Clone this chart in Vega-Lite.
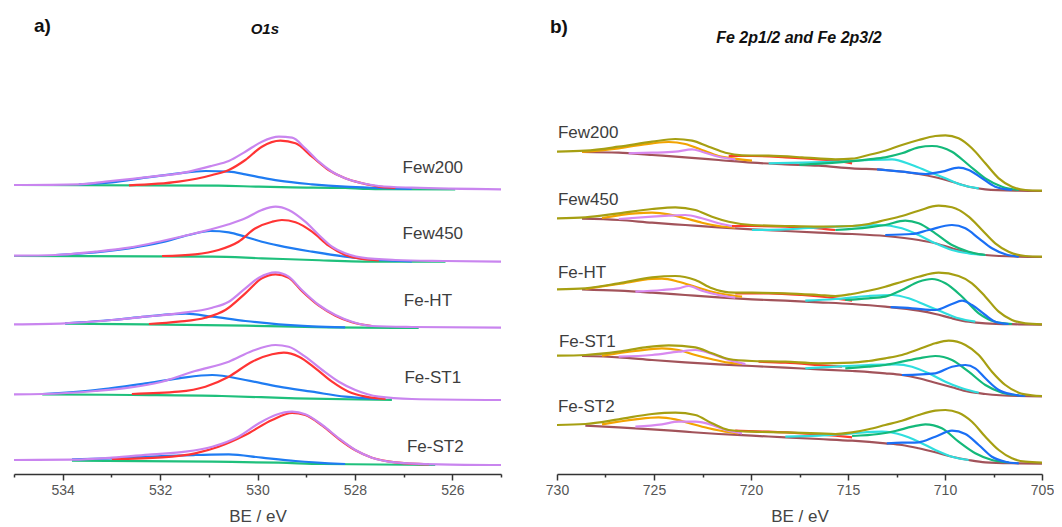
{
"$schema":"https://vega.github.io/schema/vega-lite/v6.json",
"padding":{"left":9,"top":10,"right":0,"bottom":0},
"spacing":56,
"bounds":"flush",
"resolve":{"scale":{"color":"independent","x":"independent","y":"independent"}},
"config":{"view":{"stroke":null},"font":"Liberation Sans",
 "axis":{"domainColor":"#333","domainWidth":1.5,"tickColor":"#333","tickWidth":1.5,"labelColor":"#555","labelFontSize":14,"labelFont":"Liberation Sans","labelPadding":3,"labelFlush":false,"labelOverlap":false,"titleColor":"#444","titleFontSize":17,"titleFontWeight":"normal","titleFont":"Liberation Sans","titlePadding":11,"grid":false}},
"datasets":{
"oxy":[
{"s":"Few200","c":"bg","x":535,"y":289},{"s":"Few200","c":"bg","x":530.8,"y":288.3},{"s":"Few200","c":"bg","x":529.97,"y":287.3},{"s":"Few200","c":"bg","x":529.29,"y":286.7},{"s":"Few200","c":"bg","x":528.2,"y":286},{"s":"Few200","c":"bg","x":527.72,"y":285},{"s":"Few200","c":"bg","x":525.94,"y":284.7},
{"s":"Few200","c":"OH","x":533.67,"y":289.7},{"s":"Few200","c":"OH","x":532.99,"y":291.7},{"s":"Few200","c":"OH","x":532.3,"y":296.3},{"s":"Few200","c":"OH","x":531.62,"y":300.7},{"s":"Few200","c":"OH","x":531.07,"y":303},{"s":"Few200","c":"OH","x":530.59,"y":302.3},{"s":"Few200","c":"OH","x":530.25,"y":299.7},{"s":"Few200","c":"OH","x":529.91,"y":296.3},{"s":"Few200","c":"OH","x":529.56,"y":293.3},{"s":"Few200","c":"OH","x":528.88,"y":289.7},{"s":"Few200","c":"OH","x":528.2,"y":287.3},{"s":"Few200","c":"OH","x":527.51,"y":286},{"s":"Few200","c":"OH","x":526.83,"y":285},
{"s":"Few200","c":"OL","x":532.64,"y":288.7},{"s":"Few200","c":"OL","x":531.62,"y":292.3},{"s":"Few200","c":"OL","x":530.93,"y":299},{"s":"Few200","c":"OL","x":530.59,"y":304},{"s":"Few200","c":"OL","x":530.25,"y":314},{"s":"Few200","c":"OL","x":529.91,"y":327.3},{"s":"Few200","c":"OL","x":529.53,"y":333.3},{"s":"Few200","c":"OL","x":529.22,"y":330.7},{"s":"Few200","c":"OL","x":528.88,"y":317.3},{"s":"Few200","c":"OL","x":528.54,"y":304},{"s":"Few200","c":"OL","x":528.2,"y":295.7},{"s":"Few200","c":"OL","x":527.85,"y":290.7},{"s":"Few200","c":"OL","x":527.51,"y":287.3},{"s":"Few200","c":"OL","x":527.17,"y":286},
{"s":"Few200","c":"fit","x":535,"y":289},{"s":"Few200","c":"fit","x":533.67,"y":289.7},{"s":"Few200","c":"fit","x":533.12,"y":292.3},{"s":"Few200","c":"fit","x":532.17,"y":297.3},{"s":"Few200","c":"fit","x":531.48,"y":301.7},{"s":"Few200","c":"fit","x":530.93,"y":308.3},{"s":"Few200","c":"fit","x":530.59,"y":313},{"s":"Few200","c":"fit","x":530.25,"y":322.3},{"s":"Few200","c":"fit","x":529.91,"y":332.3},{"s":"Few200","c":"fit","x":529.56,"y":337.3},{"s":"Few200","c":"fit","x":529.29,"y":336.3},{"s":"Few200","c":"fit","x":529.02,"y":325.7},{"s":"Few200","c":"fit","x":528.74,"y":312.3},{"s":"Few200","c":"fit","x":528.47,"y":302.3},{"s":"Few200","c":"fit","x":528.2,"y":295.7},{"s":"Few200","c":"fit","x":527.85,"y":290.7},{"s":"Few200","c":"fit","x":527.51,"y":288},{"s":"Few200","c":"fit","x":526.83,"y":286.3},{"s":"Few200","c":"fit","x":525,"y":284.7},
{"s":"Few450","c":"bg","x":535,"y":218},{"s":"Few450","c":"bg","x":530.93,"y":217.3},{"s":"Few450","c":"bg","x":529.91,"y":215.7},{"s":"Few450","c":"bg","x":528.88,"y":214},{"s":"Few450","c":"bg","x":527.51,"y":212.3},{"s":"Few450","c":"bg","x":526.14,"y":212.3},
{"s":"Few450","c":"OH","x":534.15,"y":219},{"s":"Few450","c":"OH","x":533.33,"y":221.7},{"s":"Few450","c":"OH","x":532.64,"y":225.7},{"s":"Few450","c":"OH","x":531.96,"y":231.7},{"s":"Few450","c":"OH","x":531.41,"y":239},{"s":"Few450","c":"OH","x":530.97,"y":243},{"s":"Few450","c":"OH","x":530.59,"y":241.7},{"s":"Few450","c":"OH","x":530.25,"y":237.3},{"s":"Few450","c":"OH","x":529.91,"y":232.3},{"s":"Few450","c":"OH","x":529.56,"y":228.3},{"s":"Few450","c":"OH","x":528.88,"y":222.3},{"s":"Few450","c":"OH","x":528.2,"y":217.3},{"s":"Few450","c":"OH","x":527.51,"y":214},{"s":"Few450","c":"OH","x":526.83,"y":212.7},
{"s":"Few450","c":"OL","x":531.96,"y":218},{"s":"Few450","c":"OL","x":531.28,"y":219.7},{"s":"Few450","c":"OL","x":530.8,"y":224},{"s":"Few450","c":"OL","x":530.39,"y":232.3},{"s":"Few450","c":"OL","x":530.04,"y":245.7},{"s":"Few450","c":"OL","x":529.7,"y":252.3},{"s":"Few450","c":"OL","x":529.5,"y":254},{"s":"Few450","c":"OL","x":529.22,"y":251.7},{"s":"Few450","c":"OL","x":528.88,"y":242.3},{"s":"Few450","c":"OL","x":528.54,"y":228.3},{"s":"Few450","c":"OL","x":528.2,"y":219},{"s":"Few450","c":"OL","x":527.85,"y":215},{"s":"Few450","c":"OL","x":527.51,"y":213.7},
{"s":"Few450","c":"fit","x":535,"y":218.3},{"s":"Few450","c":"fit","x":534.15,"y":219},{"s":"Few450","c":"fit","x":533.33,"y":222.3},{"s":"Few450","c":"fit","x":532.64,"y":226.3},{"s":"Few450","c":"fit","x":531.96,"y":233},{"s":"Few450","c":"fit","x":531.28,"y":240.7},{"s":"Few450","c":"fit","x":530.59,"y":249.7},{"s":"Few450","c":"fit","x":530.25,"y":255.7},{"s":"Few450","c":"fit","x":529.91,"y":264},{"s":"Few450","c":"fit","x":529.63,"y":267.3},{"s":"Few450","c":"fit","x":529.36,"y":264},{"s":"Few450","c":"fit","x":529.02,"y":252.3},{"s":"Few450","c":"fit","x":528.74,"y":239},{"s":"Few450","c":"fit","x":528.47,"y":227.3},{"s":"Few450","c":"fit","x":528.2,"y":220.7},{"s":"Few450","c":"fit","x":527.85,"y":216.3},{"s":"Few450","c":"fit","x":527.17,"y":214},{"s":"Few450","c":"fit","x":526.14,"y":213},{"s":"Few450","c":"fit","x":525,"y":212.3},
{"s":"Fe-HT","c":"bg","x":533.95,"y":150.3},{"s":"Fe-HT","c":"bg","x":532.3,"y":149.7},{"s":"Fe-HT","c":"bg","x":530.25,"y":148.3},{"s":"Fe-HT","c":"bg","x":528.54,"y":146.7},{"s":"Fe-HT","c":"bg","x":526.69,"y":146},
{"s":"Fe-HT","c":"OH","x":533.95,"y":150.7},{"s":"Fe-HT","c":"OH","x":532.99,"y":154},{"s":"Fe-HT","c":"OH","x":532.3,"y":157.3},{"s":"Fe-HT","c":"OH","x":531.48,"y":160.3},{"s":"Fe-HT","c":"OH","x":530.93,"y":157.3},{"s":"Fe-HT","c":"OH","x":530.25,"y":153},{"s":"Fe-HT","c":"OH","x":529.56,"y":149.7},{"s":"Fe-HT","c":"OH","x":528.88,"y":147.7},{"s":"Fe-HT","c":"OH","x":528.2,"y":146.7},
{"s":"Fe-HT","c":"OL","x":532.23,"y":150},{"s":"Fe-HT","c":"OL","x":531.62,"y":152.3},{"s":"Fe-HT","c":"OL","x":531.07,"y":156.3},{"s":"Fe-HT","c":"OL","x":530.66,"y":164},{"s":"Fe-HT","c":"OL","x":530.25,"y":180.7},{"s":"Fe-HT","c":"OL","x":529.91,"y":195.7},{"s":"Fe-HT","c":"OL","x":529.63,"y":199.7},{"s":"Fe-HT","c":"OL","x":529.36,"y":196.3},{"s":"Fe-HT","c":"OL","x":529.09,"y":183},{"s":"Fe-HT","c":"OL","x":528.74,"y":168.3},{"s":"Fe-HT","c":"OL","x":528.4,"y":158.3},{"s":"Fe-HT","c":"OL","x":528.06,"y":151.7},{"s":"Fe-HT","c":"OL","x":527.65,"y":148},
{"s":"Fe-HT","c":"fit","x":535,"y":149.7},{"s":"Fe-HT","c":"fit","x":533.95,"y":150.7},{"s":"Fe-HT","c":"fit","x":532.99,"y":154},{"s":"Fe-HT","c":"fit","x":532.3,"y":157.3},{"s":"Fe-HT","c":"fit","x":531.62,"y":160.7},{"s":"Fe-HT","c":"fit","x":530.93,"y":166.3},{"s":"Fe-HT","c":"fit","x":530.59,"y":172.3},{"s":"Fe-HT","c":"fit","x":530.25,"y":185.7},{"s":"Fe-HT","c":"fit","x":529.97,"y":196.3},{"s":"Fe-HT","c":"fit","x":529.63,"y":201.7},{"s":"Fe-HT","c":"fit","x":529.36,"y":197.3},{"s":"Fe-HT","c":"fit","x":529.09,"y":184},{"s":"Fe-HT","c":"fit","x":528.74,"y":169},{"s":"Fe-HT","c":"fit","x":528.4,"y":159},{"s":"Fe-HT","c":"fit","x":528.06,"y":152.3},{"s":"Fe-HT","c":"fit","x":527.65,"y":148},{"s":"Fe-HT","c":"fit","x":526.83,"y":147},{"s":"Fe-HT","c":"fit","x":525,"y":146.3},
{"s":"Fe-ST1","c":"bg","x":534.42,"y":79.7},{"s":"Fe-ST1","c":"bg","x":532.58,"y":79},{"s":"Fe-ST1","c":"bg","x":530.73,"y":78},{"s":"Fe-ST1","c":"bg","x":529.22,"y":75.7},{"s":"Fe-ST1","c":"bg","x":527.24,"y":74},
{"s":"Fe-ST1","c":"OH","x":534.42,"y":80},{"s":"Fe-ST1","c":"OH","x":533.33,"y":84},{"s":"Fe-ST1","c":"OH","x":532.3,"y":90.7},{"s":"Fe-ST1","c":"OH","x":531.62,"y":95.7},{"s":"Fe-ST1","c":"OH","x":530.93,"y":99},{"s":"Fe-ST1","c":"OH","x":530.25,"y":94},{"s":"Fe-ST1","c":"OH","x":529.56,"y":87.3},{"s":"Fe-ST1","c":"OH","x":528.88,"y":82.3},{"s":"Fe-ST1","c":"OH","x":528.2,"y":77.3},{"s":"Fe-ST1","c":"OH","x":527.51,"y":75},
{"s":"Fe-ST1","c":"OL","x":532.58,"y":80},{"s":"Fe-ST1","c":"OL","x":531.62,"y":82.3},{"s":"Fe-ST1","c":"OL","x":531.07,"y":87.3},{"s":"Fe-ST1","c":"OL","x":530.59,"y":97.3},{"s":"Fe-ST1","c":"OL","x":530.11,"y":112.3},{"s":"Fe-ST1","c":"OL","x":529.7,"y":119.7},{"s":"Fe-ST1","c":"OL","x":529.46,"y":121.3},{"s":"Fe-ST1","c":"OL","x":529.15,"y":117.3},{"s":"Fe-ST1","c":"OL","x":528.81,"y":105.7},{"s":"Fe-ST1","c":"OL","x":528.47,"y":92.3},{"s":"Fe-ST1","c":"OL","x":528.13,"y":82.3},{"s":"Fe-ST1","c":"OL","x":527.78,"y":77.3},{"s":"Fe-ST1","c":"OL","x":527.37,"y":75},
{"s":"Fe-ST1","c":"fit","x":535,"y":79.7},{"s":"Fe-ST1","c":"fit","x":534.42,"y":80},{"s":"Fe-ST1","c":"fit","x":533.33,"y":83},{"s":"Fe-ST1","c":"fit","x":532.64,"y":86.3},{"s":"Fe-ST1","c":"fit","x":531.96,"y":92.3},{"s":"Fe-ST1","c":"fit","x":531.28,"y":103},{"s":"Fe-ST1","c":"fit","x":530.59,"y":112.3},{"s":"Fe-ST1","c":"fit","x":530.11,"y":123},{"s":"Fe-ST1","c":"fit","x":529.63,"y":129},{"s":"Fe-ST1","c":"fit","x":529.36,"y":127.3},{"s":"Fe-ST1","c":"fit","x":529.02,"y":117.3},{"s":"Fe-ST1","c":"fit","x":528.67,"y":104},{"s":"Fe-ST1","c":"fit","x":528.33,"y":92.3},{"s":"Fe-ST1","c":"fit","x":527.99,"y":84},{"s":"Fe-ST1","c":"fit","x":527.51,"y":77.3},{"s":"Fe-ST1","c":"fit","x":526.83,"y":75},{"s":"Fe-ST1","c":"fit","x":525,"y":74},
{"s":"Fe-ST2","c":"bg","x":533.81,"y":13.3},{"s":"Fe-ST2","c":"bg","x":530.93,"y":12.3},{"s":"Fe-ST2","c":"bg","x":529.56,"y":11.3},{"s":"Fe-ST2","c":"bg","x":528.67,"y":10},{"s":"Fe-ST2","c":"bg","x":526.35,"y":9},
{"s":"Fe-ST2","c":"OH","x":533.81,"y":14.7},{"s":"Fe-ST2","c":"OH","x":532.99,"y":15.7},{"s":"Fe-ST2","c":"OH","x":531.96,"y":18},{"s":"Fe-ST2","c":"OH","x":531.28,"y":19},{"s":"Fe-ST2","c":"OH","x":530.59,"y":19.7},{"s":"Fe-ST2","c":"OH","x":529.91,"y":16.3},{"s":"Fe-ST2","c":"OH","x":529.22,"y":13},{"s":"Fe-ST2","c":"OH","x":528.54,"y":10.7},{"s":"Fe-ST2","c":"OH","x":528.2,"y":10},
{"s":"Fe-ST2","c":"OL","x":532.99,"y":15},{"s":"Fe-ST2","c":"OL","x":531.96,"y":16.7},{"s":"Fe-ST2","c":"OL","x":531.28,"y":20.7},{"s":"Fe-ST2","c":"OL","x":530.8,"y":27.3},{"s":"Fe-ST2","c":"OL","x":530.25,"y":39},{"s":"Fe-ST2","c":"OL","x":529.7,"y":54},{"s":"Fe-ST2","c":"OL","x":529.29,"y":61},{"s":"Fe-ST2","c":"OL","x":529.02,"y":59},{"s":"Fe-ST2","c":"OL","x":528.67,"y":48.3},{"s":"Fe-ST2","c":"OL","x":528.33,"y":35},{"s":"Fe-ST2","c":"OL","x":527.99,"y":23.7},{"s":"Fe-ST2","c":"OL","x":527.65,"y":16.3},{"s":"Fe-ST2","c":"OL","x":527.17,"y":11.7},{"s":"Fe-ST2","c":"OL","x":526.48,"y":9.7},
{"s":"Fe-ST2","c":"fit","x":535,"y":14},{"s":"Fe-ST2","c":"fit","x":533.81,"y":14.3},{"s":"Fe-ST2","c":"fit","x":532.99,"y":16.3},{"s":"Fe-ST2","c":"fit","x":532.17,"y":19.7},{"s":"Fe-ST2","c":"fit","x":531.48,"y":22.3},{"s":"Fe-ST2","c":"fit","x":530.93,"y":27.3},{"s":"Fe-ST2","c":"fit","x":530.39,"y":37.3},{"s":"Fe-ST2","c":"fit","x":529.97,"y":50.7},{"s":"Fe-ST2","c":"fit","x":529.63,"y":59},{"s":"Fe-ST2","c":"fit","x":529.29,"y":62.3},{"s":"Fe-ST2","c":"fit","x":529.02,"y":59.7},{"s":"Fe-ST2","c":"fit","x":528.67,"y":49},{"s":"Fe-ST2","c":"fit","x":528.33,"y":35.7},{"s":"Fe-ST2","c":"fit","x":527.99,"y":24},{"s":"Fe-ST2","c":"fit","x":527.65,"y":16.3},{"s":"Fe-ST2","c":"fit","x":527.17,"y":11.7},{"s":"Fe-ST2","c":"fit","x":526.28,"y":9.7},{"s":"Fe-ST2","c":"fit","x":525,"y":9}
],
"fe":[
{"s":"Few200","c":"bg","x":728.71,"y":322},{"s":"Few200","c":"bg","x":726.82,"y":321.3},{"s":"Few200","c":"bg","x":725.1,"y":319},{"s":"Few200","c":"bg","x":723.39,"y":316.7},{"s":"Few200","c":"bg","x":721.67,"y":314},{"s":"Few200","c":"bg","x":719.95,"y":311.3},{"s":"Few200","c":"bg","x":718.23,"y":309.7},{"s":"Few200","c":"bg","x":716.51,"y":308.3},{"s":"Few200","c":"bg","x":714.79,"y":305.7},{"s":"Few200","c":"bg","x":713.08,"y":304},{"s":"Few200","c":"bg","x":711.36,"y":300},{"s":"Few200","c":"bg","x":710.5,"y":296.7},{"s":"Few200","c":"bg","x":709.64,"y":292.3},{"s":"Few200","c":"bg","x":708.78,"y":287.3},{"s":"Few200","c":"bg","x":707.92,"y":284.7},{"s":"Few200","c":"bg","x":706.2,"y":283.3},{"s":"Few200","c":"bg","x":705,"y":283},
{"s":"Few200","c":"p12a","x":728.71,"y":322},{"s":"Few200","c":"p12a","x":726.82,"y":325.7},{"s":"Few200","c":"p12a","x":725.1,"y":330.7},{"s":"Few200","c":"p12a","x":724.24,"y":332},{"s":"Few200","c":"p12a","x":723.39,"y":330},{"s":"Few200","c":"p12a","x":722.53,"y":324},{"s":"Few200","c":"p12a","x":721.67,"y":318},{"s":"Few200","c":"p12a","x":720.81,"y":315.3},{"s":"Few200","c":"p12a","x":719.95,"y":313.3},
{"s":"Few200","c":"p12b","x":726.31,"y":320.7},{"s":"Few200","c":"p12b","x":725.1,"y":321.3},{"s":"Few200","c":"p12b","x":723.9,"y":322.3},{"s":"Few200","c":"p12b","x":723.04,"y":324.7},{"s":"Few200","c":"p12b","x":722.53,"y":322.3},{"s":"Few200","c":"p12b","x":721.67,"y":317.3},{"s":"Few200","c":"p12b","x":720.81,"y":314.7},
{"s":"Few200","c":"sat","x":721.15,"y":318},{"s":"Few200","c":"sat","x":719.95,"y":318},{"s":"Few200","c":"sat","x":718.23,"y":316.7},{"s":"Few200","c":"sat","x":716.51,"y":314.7},{"s":"Few200","c":"sat","x":715.65,"y":313.3},{"s":"Few200","c":"sat","x":714.79,"y":310.7},
{"s":"Few200","c":"p32c","x":719.09,"y":310.7},{"s":"Few200","c":"p32c","x":717.37,"y":311.3},{"s":"Few200","c":"p32c","x":715.65,"y":312.3},{"s":"Few200","c":"p32c","x":713.94,"y":314},{"s":"Few200","c":"p32c","x":712.73,"y":314.7},{"s":"Few200","c":"p32c","x":711.7,"y":309},{"s":"Few200","c":"p32c","x":710.84,"y":302.3},{"s":"Few200","c":"p32c","x":709.98,"y":295.7},{"s":"Few200","c":"p32c","x":709.12,"y":289},{"s":"Few200","c":"p32c","x":708.26,"y":285.7},
{"s":"Few200","c":"p32a","x":717.5,"y":309.2},{"s":"Few200","c":"p32a","x":715.65,"y":311.3},{"s":"Few200","c":"p32a","x":713.94,"y":314.7},{"s":"Few200","c":"p32a","x":713.08,"y":316.7},{"s":"Few200","c":"p32a","x":712.22,"y":320.7},{"s":"Few200","c":"p32a","x":711.36,"y":326.7},{"s":"Few200","c":"p32a","x":710.67,"y":328},{"s":"Few200","c":"p32a","x":709.64,"y":322.3},{"s":"Few200","c":"p32a","x":708.78,"y":309},{"s":"Few200","c":"p32a","x":707.92,"y":295.7},{"s":"Few200","c":"p32a","x":707.06,"y":287.3},{"s":"Few200","c":"p32a","x":706.2,"y":284},
{"s":"Few200","c":"p32b","x":713.5,"y":304.6},{"s":"Few200","c":"p32b","x":712.22,"y":302.3},{"s":"Few200","c":"p32b","x":711.01,"y":300},{"s":"Few200","c":"p32b","x":710.16,"y":302.3},{"s":"Few200","c":"p32b","x":709.3,"y":306.3},{"s":"Few200","c":"p32b","x":708.78,"y":304},{"s":"Few200","c":"p32b","x":708.09,"y":295.7},{"s":"Few200","c":"p32b","x":707.41,"y":287.3},{"s":"Few200","c":"p32b","x":706.55,"y":284},
{"s":"Few200","c":"fit","x":730,"y":322.3},{"s":"Few200","c":"fit","x":728.54,"y":323.3},{"s":"Few200","c":"fit","x":726.82,"y":327.3},{"s":"Few200","c":"fit","x":725.1,"y":332.3},{"s":"Few200","c":"fit","x":723.9,"y":335},{"s":"Few200","c":"fit","x":723.04,"y":333.3},{"s":"Few200","c":"fit","x":722.18,"y":327.3},{"s":"Few200","c":"fit","x":721.32,"y":321.3},{"s":"Few200","c":"fit","x":720.46,"y":318.7},{"s":"Few200","c":"fit","x":719.09,"y":318.3},{"s":"Few200","c":"fit","x":717.37,"y":316.7},{"s":"Few200","c":"fit","x":715.65,"y":314.7},{"s":"Few200","c":"fit","x":714.79,"y":315.3},{"s":"Few200","c":"fit","x":713.94,"y":319},{"s":"Few200","c":"fit","x":713.08,"y":323.3},{"s":"Few200","c":"fit","x":712.22,"y":329},{"s":"Few200","c":"fit","x":711.36,"y":334},{"s":"Few200","c":"fit","x":710.5,"y":338},{"s":"Few200","c":"fit","x":709.98,"y":338.7},{"s":"Few200","c":"fit","x":709.3,"y":335.7},{"s":"Few200","c":"fit","x":708.61,"y":325.7},{"s":"Few200","c":"fit","x":707.92,"y":310.7},{"s":"Few200","c":"fit","x":707.23,"y":295.7},{"s":"Few200","c":"fit","x":706.55,"y":287.3},{"s":"Few200","c":"fit","x":705.86,"y":284},{"s":"Few200","c":"fit","x":705,"y":283.3},
{"s":"Few450","c":"bg","x":728.71,"y":255.3},{"s":"Few450","c":"bg","x":726.82,"y":254},{"s":"Few450","c":"bg","x":725.1,"y":251.3},{"s":"Few450","c":"bg","x":723.39,"y":249},{"s":"Few450","c":"bg","x":721.67,"y":246.7},{"s":"Few450","c":"bg","x":719.95,"y":244.7},{"s":"Few450","c":"bg","x":718.23,"y":243},{"s":"Few450","c":"bg","x":716.51,"y":241.3},{"s":"Few450","c":"bg","x":714.79,"y":240},{"s":"Few450","c":"bg","x":713.08,"y":238},{"s":"Few450","c":"bg","x":711.36,"y":234},{"s":"Few450","c":"bg","x":710.5,"y":230.7},{"s":"Few450","c":"bg","x":709.64,"y":225.7},{"s":"Few450","c":"bg","x":708.78,"y":221.3},{"s":"Few450","c":"bg","x":707.92,"y":219},{"s":"Few450","c":"bg","x":706.2,"y":217.3},{"s":"Few450","c":"bg","x":705,"y":217},
{"s":"Few450","c":"p12a","x":727.68,"y":256},{"s":"Few450","c":"p12a","x":725.96,"y":260.7},{"s":"Few450","c":"p12a","x":725.1,"y":261.3},{"s":"Few450","c":"p12a","x":724.24,"y":259.7},{"s":"Few450","c":"p12a","x":723.39,"y":255.7},{"s":"Few450","c":"p12a","x":722.53,"y":251.3},{"s":"Few450","c":"p12a","x":721.67,"y":248},{"s":"Few450","c":"p12a","x":720.81,"y":246.3},
{"s":"Few450","c":"p12b","x":726.82,"y":255},{"s":"Few450","c":"p12b","x":725.1,"y":257.3},{"s":"Few450","c":"p12b","x":724.24,"y":258.3},{"s":"Few450","c":"p12b","x":723.39,"y":259},{"s":"Few450","c":"p12b","x":722.53,"y":255.7},{"s":"Few450","c":"p12b","x":721.67,"y":250.7},{"s":"Few450","c":"p12b","x":720.81,"y":247.3},
{"s":"Few450","c":"sat","x":720.98,"y":248},{"s":"Few450","c":"sat","x":719.95,"y":248},{"s":"Few450","c":"sat","x":718.23,"y":247.3},{"s":"Few450","c":"sat","x":716.51,"y":245.7},{"s":"Few450","c":"sat","x":715.65,"y":244},
{"s":"Few450","c":"p32c","x":719.95,"y":244},{"s":"Few450","c":"p32c","x":718.23,"y":244.7},{"s":"Few450","c":"p32c","x":716.51,"y":246.7},{"s":"Few450","c":"p32c","x":714.79,"y":248},{"s":"Few450","c":"p32c","x":713.42,"y":249},{"s":"Few450","c":"p32c","x":712.22,"y":245.7},{"s":"Few450","c":"p32c","x":711.36,"y":239},{"s":"Few450","c":"p32c","x":710.5,"y":230.7},{"s":"Few450","c":"p32c","x":709.64,"y":224},{"s":"Few450","c":"p32c","x":708.78,"y":220.7},{"s":"Few450","c":"p32c","x":707.92,"y":219},
{"s":"Few450","c":"p32a","x":715.65,"y":244},{"s":"Few450","c":"p32a","x":713.94,"y":246.7},{"s":"Few450","c":"p32a","x":713.08,"y":249},{"s":"Few450","c":"p32a","x":712.05,"y":253.3},{"s":"Few450","c":"p32a","x":711.36,"y":250.7},{"s":"Few450","c":"p32a","x":710.5,"y":240.7},{"s":"Few450","c":"p32a","x":709.64,"y":229},{"s":"Few450","c":"p32a","x":708.78,"y":222.3},{"s":"Few450","c":"p32a","x":707.92,"y":219},
{"s":"Few450","c":"p32b","x":713.08,"y":239},{"s":"Few450","c":"p32b","x":711.7,"y":240},{"s":"Few450","c":"p32b","x":710.84,"y":244},{"s":"Few450","c":"p32b","x":709.64,"y":249},{"s":"Few450","c":"p32b","x":708.95,"y":245.7},{"s":"Few450","c":"p32b","x":708.26,"y":235.7},{"s":"Few450","c":"p32b","x":707.58,"y":225.7},{"s":"Few450","c":"p32b","x":706.89,"y":219.7},{"s":"Few450","c":"p32b","x":706.2,"y":217.3},
{"s":"Few450","c":"fit","x":730,"y":255.7},{"s":"Few450","c":"fit","x":728.54,"y":256.7},{"s":"Few450","c":"fit","x":726.82,"y":260.7},{"s":"Few450","c":"fit","x":725.1,"y":265},{"s":"Few450","c":"fit","x":723.9,"y":266.7},{"s":"Few450","c":"fit","x":722.87,"y":264},{"s":"Few450","c":"fit","x":722.01,"y":257.3},{"s":"Few450","c":"fit","x":721.15,"y":252.3},{"s":"Few450","c":"fit","x":719.95,"y":249},{"s":"Few450","c":"fit","x":718.23,"y":248},{"s":"Few450","c":"fit","x":716.51,"y":247.3},{"s":"Few450","c":"fit","x":714.79,"y":248},{"s":"Few450","c":"fit","x":713.94,"y":250},{"s":"Few450","c":"fit","x":713.08,"y":254},{"s":"Few450","c":"fit","x":712.22,"y":258},{"s":"Few450","c":"fit","x":711.36,"y":263.3},{"s":"Few450","c":"fit","x":710.33,"y":268.3},{"s":"Few450","c":"fit","x":709.64,"y":266.7},{"s":"Few450","c":"fit","x":708.78,"y":257.3},{"s":"Few450","c":"fit","x":708.09,"y":244},{"s":"Few450","c":"fit","x":707.41,"y":230.7},{"s":"Few450","c":"fit","x":706.72,"y":222.3},{"s":"Few450","c":"fit","x":705.86,"y":218},{"s":"Few450","c":"fit","x":705,"y":217.3},
{"s":"Fe-HT","c":"bg","x":728.71,"y":184.7},{"s":"Fe-HT","c":"bg","x":726.82,"y":183.3},{"s":"Fe-HT","c":"bg","x":725.1,"y":181.3},{"s":"Fe-HT","c":"bg","x":723.39,"y":179},{"s":"Fe-HT","c":"bg","x":721.67,"y":176.7},{"s":"Fe-HT","c":"bg","x":719.95,"y":174.7},{"s":"Fe-HT","c":"bg","x":718.23,"y":173.3},{"s":"Fe-HT","c":"bg","x":716.51,"y":171.7},{"s":"Fe-HT","c":"bg","x":714.79,"y":170},{"s":"Fe-HT","c":"bg","x":713.08,"y":167.3},{"s":"Fe-HT","c":"bg","x":711.36,"y":163.3},{"s":"Fe-HT","c":"bg","x":710.5,"y":160},{"s":"Fe-HT","c":"bg","x":709.64,"y":155.7},{"s":"Fe-HT","c":"bg","x":708.78,"y":152.3},{"s":"Fe-HT","c":"bg","x":707.92,"y":150.7},{"s":"Fe-HT","c":"bg","x":706.2,"y":149.7},{"s":"Fe-HT","c":"bg","x":705,"y":149.3},
{"s":"Fe-HT","c":"p12a","x":728.54,"y":185},{"s":"Fe-HT","c":"p12a","x":726.82,"y":190},{"s":"Fe-HT","c":"p12a","x":725.1,"y":195},{"s":"Fe-HT","c":"p12a","x":724.59,"y":195.3},{"s":"Fe-HT","c":"p12a","x":723.73,"y":192.3},{"s":"Fe-HT","c":"p12a","x":722.87,"y":187.3},{"s":"Fe-HT","c":"p12a","x":722.01,"y":182.3},{"s":"Fe-HT","c":"p12a","x":721.15,"y":179},{"s":"Fe-HT","c":"p12a","x":720.46,"y":177.3},
{"s":"Fe-HT","c":"p12b","x":725.96,"y":182.3},{"s":"Fe-HT","c":"p12b","x":724.59,"y":184},{"s":"Fe-HT","c":"p12b","x":723.73,"y":185.7},{"s":"Fe-HT","c":"p12b","x":723.21,"y":188},{"s":"Fe-HT","c":"p12b","x":722.53,"y":183.3},{"s":"Fe-HT","c":"p12b","x":721.67,"y":179},{"s":"Fe-HT","c":"p12b","x":720.81,"y":176.3},
{"s":"Fe-HT","c":"sat","x":720.81,"y":180.7},{"s":"Fe-HT","c":"sat","x":719.09,"y":180.7},{"s":"Fe-HT","c":"sat","x":717.37,"y":179},{"s":"Fe-HT","c":"sat","x":715.65,"y":175.7},{"s":"Fe-HT","c":"sat","x":714.79,"y":173.3},
{"s":"Fe-HT","c":"p32c","x":717.2,"y":173.3},{"s":"Fe-HT","c":"p32c","x":715.65,"y":175},{"s":"Fe-HT","c":"p32c","x":713.94,"y":178},{"s":"Fe-HT","c":"p32c","x":712.73,"y":179},{"s":"Fe-HT","c":"p32c","x":711.87,"y":175.7},{"s":"Fe-HT","c":"p32c","x":711.01,"y":169},{"s":"Fe-HT","c":"p32c","x":710.16,"y":162.3},{"s":"Fe-HT","c":"p32c","x":709.3,"y":155.7},{"s":"Fe-HT","c":"p32c","x":708.44,"y":152.3},
{"s":"Fe-HT","c":"p32a","x":715.14,"y":174},{"s":"Fe-HT","c":"p32a","x":713.94,"y":175.7},{"s":"Fe-HT","c":"p32a","x":713.08,"y":177.3},{"s":"Fe-HT","c":"p32a","x":712.22,"y":184},{"s":"Fe-HT","c":"p32a","x":711.36,"y":192.3},{"s":"Fe-HT","c":"p32a","x":710.67,"y":195},{"s":"Fe-HT","c":"p32a","x":709.98,"y":190.7},{"s":"Fe-HT","c":"p32a","x":709.12,"y":177.3},{"s":"Fe-HT","c":"p32a","x":708.26,"y":160.7},{"s":"Fe-HT","c":"p32a","x":707.41,"y":152.3},{"s":"Fe-HT","c":"p32a","x":706.55,"y":150},
{"s":"Fe-HT","c":"p32b","x":712.8,"y":166.8},{"s":"Fe-HT","c":"p32b","x":711.7,"y":165.7},{"s":"Fe-HT","c":"p32b","x":710.5,"y":164},{"s":"Fe-HT","c":"p32b","x":709.64,"y":170},{"s":"Fe-HT","c":"p32b","x":709.12,"y":173.3},{"s":"Fe-HT","c":"p32b","x":708.61,"y":169},{"s":"Fe-HT","c":"p32b","x":707.92,"y":159},{"s":"Fe-HT","c":"p32b","x":707.41,"y":152.3},{"s":"Fe-HT","c":"p32b","x":706.72,"y":150},
{"s":"Fe-HT","c":"fit","x":730,"y":184.7},{"s":"Fe-HT","c":"fit","x":728.54,"y":185.7},{"s":"Fe-HT","c":"fit","x":726.82,"y":190.7},{"s":"Fe-HT","c":"fit","x":725.1,"y":196.7},{"s":"Fe-HT","c":"fit","x":723.9,"y":198},{"s":"Fe-HT","c":"fit","x":722.87,"y":194},{"s":"Fe-HT","c":"fit","x":722.01,"y":185.7},{"s":"Fe-HT","c":"fit","x":721.15,"y":181.7},{"s":"Fe-HT","c":"fit","x":719.95,"y":181.3},{"s":"Fe-HT","c":"fit","x":718.23,"y":180.7},{"s":"Fe-HT","c":"fit","x":716.51,"y":179},{"s":"Fe-HT","c":"fit","x":715.65,"y":178},{"s":"Fe-HT","c":"fit","x":714.79,"y":180},{"s":"Fe-HT","c":"fit","x":713.94,"y":183.3},{"s":"Fe-HT","c":"fit","x":713.08,"y":187.3},{"s":"Fe-HT","c":"fit","x":712.22,"y":192.3},{"s":"Fe-HT","c":"fit","x":711.36,"y":197.3},{"s":"Fe-HT","c":"fit","x":710.33,"y":201.3},{"s":"Fe-HT","c":"fit","x":709.3,"y":198},{"s":"Fe-HT","c":"fit","x":708.61,"y":190.7},{"s":"Fe-HT","c":"fit","x":707.92,"y":177.3},{"s":"Fe-HT","c":"fit","x":707.23,"y":162.3},{"s":"Fe-HT","c":"fit","x":706.55,"y":154},{"s":"Fe-HT","c":"fit","x":705.86,"y":150.7},{"s":"Fe-HT","c":"fit","x":705,"y":149.7},
{"s":"Fe-ST1","c":"bg","x":728.71,"y":118},{"s":"Fe-ST1","c":"bg","x":726.82,"y":116.7},{"s":"Fe-ST1","c":"bg","x":725.1,"y":114},{"s":"Fe-ST1","c":"bg","x":723.39,"y":111.7},{"s":"Fe-ST1","c":"bg","x":721.67,"y":109.7},{"s":"Fe-ST1","c":"bg","x":719.95,"y":108},{"s":"Fe-ST1","c":"bg","x":718.23,"y":106.3},{"s":"Fe-ST1","c":"bg","x":716.51,"y":104.7},{"s":"Fe-ST1","c":"bg","x":714.79,"y":103},{"s":"Fe-ST1","c":"bg","x":713.08,"y":100.7},{"s":"Fe-ST1","c":"bg","x":712.22,"y":99},{"s":"Fe-ST1","c":"bg","x":711.36,"y":95.7},{"s":"Fe-ST1","c":"bg","x":710.5,"y":91.3},{"s":"Fe-ST1","c":"bg","x":709.64,"y":86.7},{"s":"Fe-ST1","c":"bg","x":708.78,"y":82.3},{"s":"Fe-ST1","c":"bg","x":707.92,"y":80},{"s":"Fe-ST1","c":"bg","x":706.2,"y":78},{"s":"Fe-ST1","c":"bg","x":705,"y":77.7},
{"s":"Fe-ST1","c":"p12a","x":727.68,"y":118.3},{"s":"Fe-ST1","c":"p12a","x":725.96,"y":123},{"s":"Fe-ST1","c":"p12a","x":724.59,"y":125.7},{"s":"Fe-ST1","c":"p12a","x":723.73,"y":124},{"s":"Fe-ST1","c":"p12a","x":722.87,"y":119},{"s":"Fe-ST1","c":"p12a","x":722.01,"y":114.7},{"s":"Fe-ST1","c":"p12a","x":721.15,"y":111.3},{"s":"Fe-ST1","c":"p12a","x":720.46,"y":110},
{"s":"Fe-ST1","c":"p12b","x":726.82,"y":117.3},{"s":"Fe-ST1","c":"p12b","x":725.1,"y":119},{"s":"Fe-ST1","c":"p12b","x":723.73,"y":122.3},{"s":"Fe-ST1","c":"p12b","x":722.87,"y":124},{"s":"Fe-ST1","c":"p12b","x":722.01,"y":120},{"s":"Fe-ST1","c":"p12b","x":721.15,"y":114},{"s":"Fe-ST1","c":"p12b","x":720.29,"y":110},
{"s":"Fe-ST1","c":"sat","x":719.61,"y":112.3},{"s":"Fe-ST1","c":"sat","x":718.23,"y":111.3},{"s":"Fe-ST1","c":"sat","x":716.51,"y":109},{"s":"Fe-ST1","c":"sat","x":715.31,"y":107.3},
{"s":"Fe-ST1","c":"p32c","x":717.2,"y":105.7},{"s":"Fe-ST1","c":"p32c","x":715.65,"y":107.3},{"s":"Fe-ST1","c":"p32c","x":713.94,"y":109},{"s":"Fe-ST1","c":"p32c","x":712.56,"y":109.7},{"s":"Fe-ST1","c":"p32c","x":711.7,"y":107.3},{"s":"Fe-ST1","c":"p32c","x":710.84,"y":100.7},{"s":"Fe-ST1","c":"p32c","x":709.98,"y":92.3},{"s":"Fe-ST1","c":"p32c","x":709.12,"y":85.7},{"s":"Fe-ST1","c":"p32c","x":708.26,"y":81.3},
{"s":"Fe-ST1","c":"p32a","x":715.14,"y":105.7},{"s":"Fe-ST1","c":"p32a","x":713.94,"y":107.3},{"s":"Fe-ST1","c":"p32a","x":713.08,"y":109},{"s":"Fe-ST1","c":"p32a","x":712.22,"y":112.3},{"s":"Fe-ST1","c":"p32a","x":711.36,"y":115.7},{"s":"Fe-ST1","c":"p32a","x":710.5,"y":118},{"s":"Fe-ST1","c":"p32a","x":709.64,"y":114},{"s":"Fe-ST1","c":"p32a","x":708.78,"y":102.3},{"s":"Fe-ST1","c":"p32a","x":707.92,"y":89},{"s":"Fe-ST1","c":"p32a","x":707.06,"y":81.3},{"s":"Fe-ST1","c":"p32a","x":706.2,"y":78.7},
{"s":"Fe-ST1","c":"p32b","x":712.22,"y":99},{"s":"Fe-ST1","c":"p32b","x":710.5,"y":100.7},{"s":"Fe-ST1","c":"p32b","x":709.64,"y":107.3},{"s":"Fe-ST1","c":"p32b","x":708.95,"y":109},{"s":"Fe-ST1","c":"p32b","x":708.44,"y":105.7},{"s":"Fe-ST1","c":"p32b","x":707.92,"y":95.7},{"s":"Fe-ST1","c":"p32b","x":707.23,"y":84},{"s":"Fe-ST1","c":"p32b","x":706.55,"y":79.7},{"s":"Fe-ST1","c":"p32b","x":705.86,"y":78},
{"s":"Fe-ST1","c":"fit","x":730,"y":118.3},{"s":"Fe-ST1","c":"fit","x":728.54,"y":119},{"s":"Fe-ST1","c":"fit","x":726.82,"y":122.3},{"s":"Fe-ST1","c":"fit","x":725.45,"y":126.7},{"s":"Fe-ST1","c":"fit","x":724.24,"y":128.7},{"s":"Fe-ST1","c":"fit","x":722.87,"y":126.7},{"s":"Fe-ST1","c":"fit","x":722.01,"y":120.7},{"s":"Fe-ST1","c":"fit","x":721.15,"y":115},{"s":"Fe-ST1","c":"fit","x":719.95,"y":113},{"s":"Fe-ST1","c":"fit","x":718.23,"y":112.3},{"s":"Fe-ST1","c":"fit","x":716.51,"y":110.7},{"s":"Fe-ST1","c":"fit","x":714.79,"y":111.3},{"s":"Fe-ST1","c":"fit","x":713.94,"y":113},{"s":"Fe-ST1","c":"fit","x":713.08,"y":115.7},{"s":"Fe-ST1","c":"fit","x":712.22,"y":119},{"s":"Fe-ST1","c":"fit","x":711.36,"y":124.7},{"s":"Fe-ST1","c":"fit","x":710.5,"y":130.7},{"s":"Fe-ST1","c":"fit","x":709.81,"y":133.3},{"s":"Fe-ST1","c":"fit","x":708.95,"y":129},{"s":"Fe-ST1","c":"fit","x":708.26,"y":119},{"s":"Fe-ST1","c":"fit","x":707.58,"y":102.3},{"s":"Fe-ST1","c":"fit","x":706.89,"y":89},{"s":"Fe-ST1","c":"fit","x":706.2,"y":81.3},{"s":"Fe-ST1","c":"fit","x":705.52,"y":78.7},{"s":"Fe-ST1","c":"fit","x":705,"y":78},
{"s":"Fe-ST2","c":"bg","x":728.54,"y":48.3},{"s":"Fe-ST2","c":"bg","x":726.82,"y":46.7},{"s":"Fe-ST2","c":"bg","x":725.1,"y":44.7},{"s":"Fe-ST2","c":"bg","x":723.39,"y":42.3},{"s":"Fe-ST2","c":"bg","x":721.67,"y":40},{"s":"Fe-ST2","c":"bg","x":719.95,"y":38.3},{"s":"Fe-ST2","c":"bg","x":718.23,"y":36.7},{"s":"Fe-ST2","c":"bg","x":716.51,"y":35},{"s":"Fe-ST2","c":"bg","x":714.79,"y":33.3},{"s":"Fe-ST2","c":"bg","x":713.08,"y":30.7},{"s":"Fe-ST2","c":"bg","x":712.22,"y":29},{"s":"Fe-ST2","c":"bg","x":711.36,"y":25.7},{"s":"Fe-ST2","c":"bg","x":710.5,"y":21.7},{"s":"Fe-ST2","c":"bg","x":709.64,"y":17.3},{"s":"Fe-ST2","c":"bg","x":708.78,"y":14},{"s":"Fe-ST2","c":"bg","x":707.92,"y":11.7},{"s":"Fe-ST2","c":"bg","x":706.2,"y":10.7},{"s":"Fe-ST2","c":"bg","x":705,"y":10.3},
{"s":"Fe-ST2","c":"p12a","x":727.68,"y":49.7},{"s":"Fe-ST2","c":"p12a","x":725.96,"y":54.7},{"s":"Fe-ST2","c":"p12a","x":724.76,"y":56.7},{"s":"Fe-ST2","c":"p12a","x":723.9,"y":54.7},{"s":"Fe-ST2","c":"p12a","x":723.04,"y":50},{"s":"Fe-ST2","c":"p12a","x":722.18,"y":45.7},{"s":"Fe-ST2","c":"p12a","x":721.32,"y":42.3},{"s":"Fe-ST2","c":"p12a","x":720.64,"y":40.7},
{"s":"Fe-ST2","c":"p12b","x":725.96,"y":47.3},{"s":"Fe-ST2","c":"p12b","x":724.59,"y":49.7},{"s":"Fe-ST2","c":"p12b","x":723.73,"y":52.3},{"s":"Fe-ST2","c":"p12b","x":722.87,"y":52.3},{"s":"Fe-ST2","c":"p12b","x":722.01,"y":49},{"s":"Fe-ST2","c":"p12b","x":721.32,"y":44},{"s":"Fe-ST2","c":"p12b","x":720.46,"y":40.7},
{"s":"Fe-ST2","c":"sat","x":720.81,"y":43.3},{"s":"Fe-ST2","c":"sat","x":719.09,"y":42.3},{"s":"Fe-ST2","c":"sat","x":717.37,"y":40.7},{"s":"Fe-ST2","c":"sat","x":715.65,"y":38.3},{"s":"Fe-ST2","c":"sat","x":714.79,"y":36.7},
{"s":"Fe-ST2","c":"p32c","x":718.23,"y":37.3},{"s":"Fe-ST2","c":"p32c","x":716.51,"y":38.3},{"s":"Fe-ST2","c":"p32c","x":714.79,"y":40.7},{"s":"Fe-ST2","c":"p32c","x":713.25,"y":42.3},{"s":"Fe-ST2","c":"p32c","x":712.22,"y":39},{"s":"Fe-ST2","c":"p32c","x":711.36,"y":32.3},{"s":"Fe-ST2","c":"p32c","x":710.5,"y":24},{"s":"Fe-ST2","c":"p32c","x":709.64,"y":17.3},{"s":"Fe-ST2","c":"p32c","x":708.78,"y":14},
{"s":"Fe-ST2","c":"p32a","x":714.79,"y":38},{"s":"Fe-ST2","c":"p32a","x":713.42,"y":40},{"s":"Fe-ST2","c":"p32a","x":712.56,"y":43},{"s":"Fe-ST2","c":"p32a","x":711.7,"y":47.3},{"s":"Fe-ST2","c":"p32a","x":711.01,"y":49.7},{"s":"Fe-ST2","c":"p32a","x":710.16,"y":45.7},{"s":"Fe-ST2","c":"p32a","x":709.3,"y":32.3},{"s":"Fe-ST2","c":"p32a","x":708.44,"y":20.7},{"s":"Fe-ST2","c":"p32a","x":707.58,"y":14},{"s":"Fe-ST2","c":"p32a","x":706.72,"y":11.7},
{"s":"Fe-ST2","c":"p32b","x":713,"y":30.6},{"s":"Fe-ST2","c":"p32b","x":712.22,"y":31.3},{"s":"Fe-ST2","c":"p32b","x":711.36,"y":31.7},{"s":"Fe-ST2","c":"p32b","x":710.5,"y":37.3},{"s":"Fe-ST2","c":"p32b","x":709.64,"y":43.3},{"s":"Fe-ST2","c":"p32b","x":708.95,"y":40},{"s":"Fe-ST2","c":"p32b","x":708.26,"y":29},{"s":"Fe-ST2","c":"p32b","x":707.58,"y":17.3},{"s":"Fe-ST2","c":"p32b","x":706.89,"y":12.3},{"s":"Fe-ST2","c":"p32b","x":706.2,"y":10.7},
{"s":"Fe-ST2","c":"fit","x":730,"y":49},{"s":"Fe-ST2","c":"fit","x":728.54,"y":50},{"s":"Fe-ST2","c":"fit","x":726.82,"y":54.7},{"s":"Fe-ST2","c":"fit","x":725.1,"y":60},{"s":"Fe-ST2","c":"fit","x":723.9,"y":61.3},{"s":"Fe-ST2","c":"fit","x":722.87,"y":59},{"s":"Fe-ST2","c":"fit","x":722.01,"y":50.7},{"s":"Fe-ST2","c":"fit","x":721.15,"y":44},{"s":"Fe-ST2","c":"fit","x":719.95,"y":42.3},{"s":"Fe-ST2","c":"fit","x":718.23,"y":41.7},{"s":"Fe-ST2","c":"fit","x":716.51,"y":40.7},{"s":"Fe-ST2","c":"fit","x":715.65,"y":40},{"s":"Fe-ST2","c":"fit","x":714.79,"y":41.7},{"s":"Fe-ST2","c":"fit","x":713.94,"y":44.7},{"s":"Fe-ST2","c":"fit","x":713.08,"y":49},{"s":"Fe-ST2","c":"fit","x":712.22,"y":53.3},{"s":"Fe-ST2","c":"fit","x":711.36,"y":59},{"s":"Fe-ST2","c":"fit","x":710.5,"y":63.3},{"s":"Fe-ST2","c":"fit","x":709.98,"y":64},{"s":"Fe-ST2","c":"fit","x":709.3,"y":61.3},{"s":"Fe-ST2","c":"fit","x":708.61,"y":52.3},{"s":"Fe-ST2","c":"fit","x":707.92,"y":37.3},{"s":"Fe-ST2","c":"fit","x":707.23,"y":24},{"s":"Fe-ST2","c":"fit","x":706.55,"y":15.7},{"s":"Fe-ST2","c":"fit","x":705.86,"y":12.3},{"s":"Fe-ST2","c":"fit","x":705,"y":11.3}
],
"namesA":[{"s":"Few200","x":526.4,"y":306},{"s":"Few450","x":526.4,"y":240},{"s":"Fe-HT","x":526.5,"y":173},{"s":"Fe-ST1","x":526.4,"y":96},{"s":"Fe-ST2","x":526.35,"y":27}],
"namesB":[{"s":"Few200","x":729.95,"y":341},{"s":"Few450","x":729.95,"y":274},{"s":"Fe-HT","x":729.95,"y":201},{"s":"Fe-ST1","x":729.9,"y":132},{"s":"Fe-ST2","x":729.95,"y":67}]
},
"hconcat":[
{"width":487,"height":464,
 "encoding":{
  "x":{"field":"x","type":"quantitative","scale":{"domain":[525,535],"reverse":true,"nice":false,"zero":false},
   "axis":{"title":"BE / eV","values":[535,534,533,532,531,530,529,528,527,526,525],"labelExpr":"datum.value % 2 === 0 ? datum.label : ''","tickSize":{"condition":{"test":"datum.value % 2 === 0","value":6},"value":3}}},
  "y":{"field":"y","type":"quantitative","scale":{"domain":[0,464],"nice":false,"zero":false},"axis":null}},
 "layer":[
  {"data":{"name":"oxy"},"mark":{"type":"line","interpolate":"monotone","strokeWidth":2.2},
   "encoding":{"color":{"field":"c","type":"nominal","legend":null,"scale":{"domain":["bg","OH","OL","fit"],"range":["#1fc07c","#1f7cf2","#ff3434","#c985ef"]}},"detail":{"field":"s"}}},
  {"data":{"name":"namesA"},"mark":{"type":"text","align":"center","baseline":"middle","fontSize":17,"color":"#3d3d3d"},"encoding":{"text":{"field":"s"}}},
  {"data":{"values":[{"t":"a)","x":534.59,"y":448}]},"mark":{"type":"text","align":"left","baseline":"middle","fontSize":19,"fontWeight":"bold","color":"#111"},"encoding":{"text":{"field":"t"}}},
  {"data":{"values":[{"t":"O1s","x":529.85,"y":445}]},"mark":{"type":"text","align":"center","baseline":"middle","fontSize":15,"fontWeight":"bold","fontStyle":"italic","color":"#111"},"encoding":{"text":{"field":"t"}}}
 ]},
{"width":485,"height":464,
 "encoding":{
  "x":{"field":"x","type":"quantitative","scale":{"domain":[705,730],"reverse":true,"nice":false,"zero":false},
   "axis":{"title":"BE / eV","values":[730,727.5,725,722.5,720,717.5,715,712.5,710,707.5,705],"labelExpr":"datum.value % 5 === 0 ? datum.label : ''","tickSize":{"condition":{"test":"datum.value % 5 === 0","value":6},"value":3}}},
  "y":{"field":"y","type":"quantitative","scale":{"domain":[0,464],"nice":false,"zero":false},"axis":null}},
 "layer":[
  {"data":{"name":"fe"},"mark":{"type":"line","interpolate":"monotone","strokeWidth":2.2},
   "encoding":{"color":{"field":"c","type":"nominal","legend":null,"scale":{"domain":["bg","p12a","p12b","sat","p32c","p32a","p32b","fit"],"range":["#a2535a","#f2a300","#d889f0","#ff3a2a","#2fdede","#14b97a","#1a6ff5","#a69f12"]}},"detail":{"field":"s"}}},
  {"data":{"name":"namesB"},"mark":{"type":"text","align":"left","baseline":"middle","fontSize":17,"color":"#3d3d3d"},"encoding":{"text":{"field":"s"}}},
  {"data":{"values":[{"t":"b)","x":730.36,"y":447}]},"mark":{"type":"text","align":"left","baseline":"middle","fontSize":19,"fontWeight":"bold","color":"#111"},"encoding":{"text":{"field":"t"}}},
  {"data":{"values":[{"t":"Fe 2p1/2 and Fe 2p3/2","x":717.53,"y":436}]},"mark":{"type":"text","align":"center","baseline":"middle","fontSize":16,"fontWeight":"bold","fontStyle":"italic","color":"#111"},"encoding":{"text":{"field":"t"}}}
 ]}
]
}
